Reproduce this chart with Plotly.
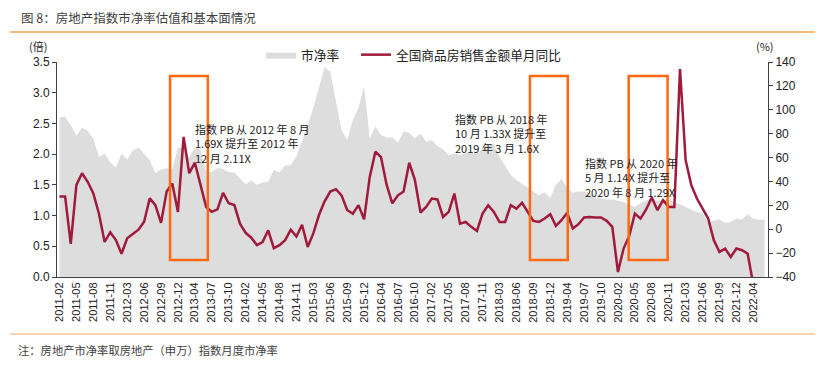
import plotly.graph_objects as go

# Categories: monthly, Jan merged into Feb (Feb..Dec each year), 2011-02 .. 2022-06
years = list(range(2011, 2023))
months = []
for y in years:
    for m in range(2, 13):
        if y == 2022 and m > 6:
            break
        months.append(f"{y}-{m:02d}")

# 房地产(申万)指数 市净率 (倍), left axis
pb = [2.60, 2.61, 2.47, 2.30, 2.43, 2.38, 2.25, 1.95, 2.01, 1.87,
      1.78, 2.01, 1.91, 2.06, 2.11, 2.01, 1.90, 1.69, 1.75, 1.77,
      1.76, 2.11, 2.11, 1.95, 2.11, 2.07, 1.71, 1.71, 1.78, 1.76,
      1.71, 1.70, 1.61, 1.51, 1.57, 1.50, 1.54, 1.55, 1.74, 1.70,
      1.82, 1.82, 1.96, 2.20, 2.47, 2.75, 3.10, 3.42, 3.34, 2.88,
      2.39, 2.23, 2.56, 2.75, 3.10, 2.26, 2.45, 2.31, 2.27, 2.27,
      2.19, 2.37, 2.35, 2.26, 2.33, 2.20, 2.23, 2.13, 2.08, 1.98,
      2.01, 1.99, 2.01, 2.04, 2.00, 2.11, 2.16, 2.15, 1.96, 1.80,
      1.66, 1.58, 1.52, 1.45, 1.40, 1.33, 1.38, 1.29, 1.50, 1.60,
      1.45, 1.37, 1.39, 1.39, 1.36, 1.30, 1.28, 1.26, 1.26, 1.24,
      1.22, 1.18, 1.14, 1.20, 1.25, 1.29, 1.24, 1.25, 1.26, 1.22,
      1.18, 1.15, 1.10, 1.06, 1.04, 0.88, 0.92, 0.94, 0.88, 0.90,
      0.95, 0.94, 1.02, 0.95, 0.93, 0.93]

# 全国商品房销售金额单月同比 (%), right axis, 2011-02 .. 2022-04
sales = [27.4, 27.4, -12.2, 37.1, 46.9, 39.7, 30.0, 13.0, -10.7, -2.5,
         -9.1, -20.5, -7.6, -4.0, -0.4, 6.3, 25.8, 20.2, 5.3, 31.5,
         38.2, 14.5, 77.3, 46.9, 55.7, 37.1, 18.6, 14.5, 16.6, 30.5,
         21.7, 20.2, 4.7, -3.0, -7.1, -13.3, -10.7, -0.9, -15.8, -13.3,
         -9.1, -0.4, -6.1, 3.7, -14.8, -3.5, 11.9, 23.3, 31.5, 33.5,
         28.4, 16.1, 13.0, 20.2, 8.3, 43.8, 64.9, 60.3, 37.1, 21.7,
         28.4, 31.5, 55.7, 41.3, 14.0, 18.6, 25.7, 24.9, 10.3, 14.5,
         29.9, 4.7, 6.1, 2.0, -1.4, 13.1, 20.1, 14.5, 6.1, 6.1,
         20.1, 17.3, 22.1, 14.5, 7.0, 6.1, 8.9, 12.6, 2.8, 7.5,
         13.7, 0.6, 4.2, 9.8, 10.3, 9.8, 9.8, 7.0, 2.0, -35.8,
         -16.2, -5.6, 13.1, 8.9, 16.5, 26.5, 15.9, 24.3, 18.7, 18.7,
         134.0, 57.8, 36.9, 25.7, 17.3, 8.9, -9.2, -19.0, -16.2, -23.2,
         -16.2, -17.6, -20.5, -46.6]

tick_labels = months[:124:3]

# Highlight boxes (category index ranges) and their notes
boxes = [(19.6, 26.3), (83.4, 90.1), (100.9, 107.8)]
notes = [
    ("指数 PB 从 2012 年 8 月<br>1.69X 提升至 2012 年<br>12 月 2.11X", 0.191, 0.735),
    ("指数 PB 从 2018 年<br>10 月 1.33X 提升至<br>2019 年 3 月 1.6X", 0.557, 0.782),
    ("指数 PB 从 2020 年<br>5 月 1.14X 提升至<br>2020 年 8 月 1.29X", 0.740, 0.577),
]

CJK = "Noto Sans CJK SC"
NUM = "Liberation Sans, Arial"
AX = "#404040"

fig = go.Figure()
fig.add_trace(go.Scatter(
    x=months, y=pb, name="市净率", mode="lines", fill="tozeroy",
    line=dict(width=0, color="#DDDDDD"), fillcolor="#DDDDDD", legend="legend",
))
fig.add_trace(go.Scatter(
    x=months[:len(sales)], y=sales, name="全国商品房销售金额单月同比",
    mode="lines", line=dict(color="#A01A3C", width=2.5), yaxis="y2", legend="legend2",
))

shapes = []
for x0, x1 in boxes:
    shapes.append(dict(type="rect", xref="x", yref="paper", x0=x0, x1=x1,
                       y0=0.079, y1=0.935, line=dict(color="#FF6A10", width=2.5),
                       fillcolor="rgba(0,0,0,0)"))
# separator lines
shapes.append(dict(type="line", xref="paper", yref="paper", x0=-0.066, x1=1.066,
                   y0=1.1395, y1=1.1395, line=dict(color="#F5A050", width=1.5)))
shapes.append(dict(type="line", xref="paper", yref="paper", x0=-0.066, x1=1.066,
                   y0=-0.265, y1=-0.265, line=dict(color="#F8C49A", width=1.5)))

annotations = []
for txt, x, y in notes:
    annotations.append(dict(text=txt, xref="paper", yref="paper", x=x, y=y,
                            xanchor="left", yanchor="top", align="left",
                            showarrow=False, font=dict(family=CJK, size=11, color="#222222")))
annotations += [
    dict(text="图 8：房地产指数市净率估值和基本面情况", xref="paper", yref="paper",
         x=-0.053, y=1.209, xanchor="left", yanchor="middle", showarrow=False,
         font=dict(family=CJK, size=12.5, color="#404040")),
    dict(text="注：房地产市净率取房地产（申万）指数月度市净率", xref="paper", yref="paper",
         x=-0.057, y=-0.34, xanchor="left", yanchor="middle", showarrow=False,
         font=dict(family=CJK, size=11.3, color="#404040")),
    dict(text="(倍)", xref="paper", yref="paper", x=-0.027, y=1.075,
         xanchor="center", yanchor="middle", showarrow=False,
         font=dict(family=CJK, size=11, color="#222222")),
    dict(text="(%)", xref="paper", yref="paper", x=0.996, y=1.075,
         xanchor="center", yanchor="middle", showarrow=False,
         font=dict(family=CJK, size=11, color="#222222")),
]

legend_common = dict(orientation="h", yanchor="middle", xanchor="left", y=1.033,
                     font=dict(family=CJK, size=12.7, color="#222222"),
                     bgcolor="rgba(0,0,0,0)", itemwidth=30)

# The page body adds an 8px offset, so the figure is 8px smaller each way.
fig.update_layout(
    width=816, height=357,
    margin=dict(l=49, r=56, t=54, b=88),
    paper_bgcolor="white", plot_bgcolor="white",
    showlegend=True,
    legend=dict(x=0.287, **legend_common),
    legend2=dict(x=0.4205, **legend_common),
    xaxis=dict(type="category", range=[-0.44, 125.6], tickmode="array",
               tickvals=tick_labels, ticktext=tick_labels, tickangle=-90,
               tickfont=dict(family=NUM, size=11, color="#222222"),
               showline=True, linecolor=AX, linewidth=1, ticks="", showgrid=False),
    yaxis=dict(range=[0, 3.5], dtick=0.5, tick0=0, tickformat=".1f",
               tickfont=dict(family=NUM, size=12, color="#222222"),
               showline=True, linecolor=AX, linewidth=1, ticks="outside",
               ticklen=4, tickcolor=AX, showgrid=False, zeroline=False),
    yaxis2=dict(range=[-40, 140], dtick=20, tick0=-40, overlaying="y", side="right",
                tickfont=dict(family=NUM, size=12, color="#222222"),
                showline=True, linecolor=AX, linewidth=1, ticks="outside",
                ticklen=4, tickcolor=AX, showgrid=False, zeroline=False),
    shapes=shapes, annotations=annotations,
)

fig.write_html("out.html")
